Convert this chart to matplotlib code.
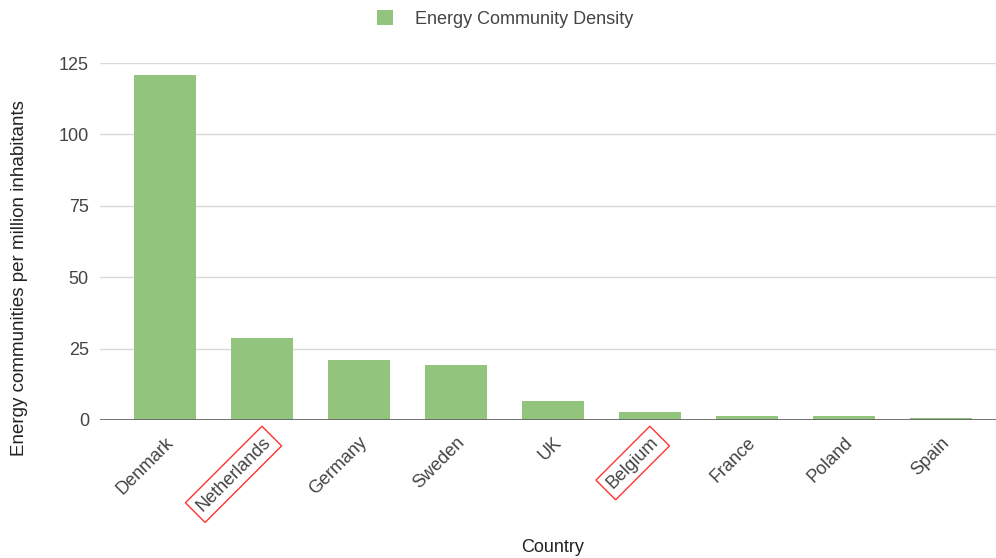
import numpy as np
import matplotlib.pyplot as plt

plt.rcParams['font.family'] = ['Liberation Sans', 'DejaVu Sans']

# Data.
countries = ['Denmark', 'Netherlands', 'Germany', 'Sweden', 'UK',
             'Belgium', 'France', 'Poland', 'Spain']
density = [120.8, 28.8, 21.0, 19.3, 6.6, 2.8, 1.4, 1.3, 0.7]
highlighted = ['Netherlands', 'Belgium']

bar_color = '#93c47d'
text_color = '#444444'
fs = 13

fig = plt.figure(figsize=(9.96, 5.58), dpi=100)
ax = fig.add_axes([100 / 996, 1 - 420 / 558, 896 / 996, 357 / 558])

x = np.arange(len(countries))
ax.bar(x, density, width=0.64, color=bar_color, label='Energy Community Density', zorder=3)

ax.set_xlim(-0.67, 8.57)
ax.set_ylim(0, 125)
ax.set_yticks([0, 25, 50, 75, 100, 125])
ax.yaxis.grid(True, color='#d9d9d9', linewidth=1, zorder=0)
ax.axhline(0, color='#666666', linewidth=1.3, zorder=4)

for s in ax.spines.values():
    s.set_visible(False)
ax.tick_params(axis='both', length=0, labelsize=fs, colors=text_color)
ax.tick_params(axis='x', pad=10)
ax.tick_params(axis='y', pad=8)

ax.set_xticks(x)
ax.set_xticklabels(countries, rotation=45, ha='right', rotation_mode='anchor')
for lbl in ax.get_xticklabels():
    if lbl.get_text() in highlighted:
        lbl.set_bbox(dict(boxstyle='square,pad=0.3', facecolor='none',
                          edgecolor='#ff3333', linewidth=1))

fig.text(20 / 996, 1 - 278 / 558, 'Energy communities per million inhabitants',
         rotation=90, ha='center', va='center', fontsize=13.5, color='#222222')
fig.text(553 / 996, 1 - 547 / 558, 'Country', ha='center', va='center',
         fontsize=fs, color='#222222')

ax.legend(loc='center', bbox_to_anchor=(505 / 996, 1 - 19 / 558),
          bbox_transform=fig.transFigure, frameon=False,
          fontsize=fs, labelcolor=text_color, handlelength=0.9, handleheight=0.9,
          handletextpad=1.2)

fig.savefig('out.png', dpi=100)
